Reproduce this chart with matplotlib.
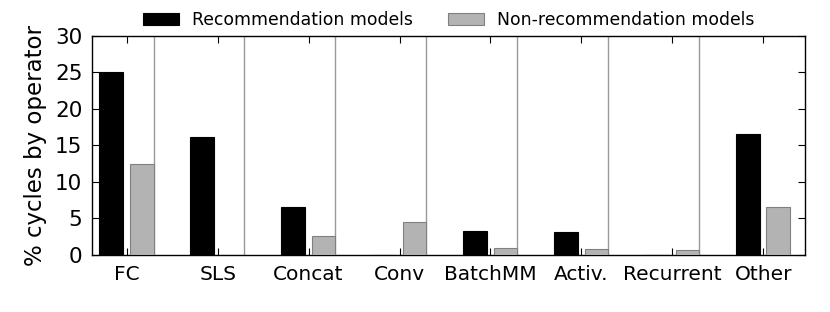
import numpy as np
import matplotlib
matplotlib.use('Agg')
import matplotlib.pyplot as plt

# Operator breakdown (% of cycles)
operators = ['FC', 'SLS', 'Concat', 'Conv', 'BatchMM', 'Activ.', 'Recurrent', 'Other']
rec_models = [25.0, 16.2, 6.5, 0.05, 3.25, 3.2, 0.0, 16.6]
nonrec_models = [12.4, 0.0, 2.55, 4.5, 0.96, 0.82, 0.73, 6.5]

plt.rcParams['font.family'] = 'DejaVu Sans'

fig = plt.figure(figsize=(8.3, 3.12), dpi=100)
ax = fig.add_axes([0.111, 0.183, 0.859, 0.702])

x = np.arange(len(operators))
width = 0.26
ax.bar(x - 0.17, rec_models, width, color='black', edgecolor='black',
       linewidth=0.8, label='Recommendation models', zorder=3)
ax.bar(x + 0.165, nonrec_models, width, color='#b3b3b3', edgecolor='#808080',
       linewidth=0.8, label='Non-recommendation models', zorder=3)

# group separators
for k in range(len(operators) - 1):
    ax.axvline(k + 0.295, color='#999999', linewidth=1.0, zorder=1)

ax.set_xlim(-0.38, 7.46)
ax.set_ylim(0, 30)
ax.set_yticks([0, 5, 10, 15, 20, 25, 30])
ax.set_xticks(x)
ax.set_xticklabels(operators)
ax.tick_params(axis='both', direction='in', top=True, right=True,
               length=5, width=0.8)
ax.tick_params(axis='x', labelsize=14.5, pad=7)
ax.tick_params(axis='y', labelsize=15.5, pad=7)
ax.set_ylabel('% cycles by operator', fontsize=16.5, labelpad=6)

for s in ax.spines.values():
    s.set_linewidth(1.0)

ax.legend(loc='lower center', bbox_to_anchor=(0.5, 1.0), ncol=2, frameon=False,
          fontsize=12.4, handlelength=2.1, handleheight=0.75, handletextpad=0.75,
          columnspacing=2.0, borderaxespad=0.0)

fig.savefig('out.png', dpi=100)
